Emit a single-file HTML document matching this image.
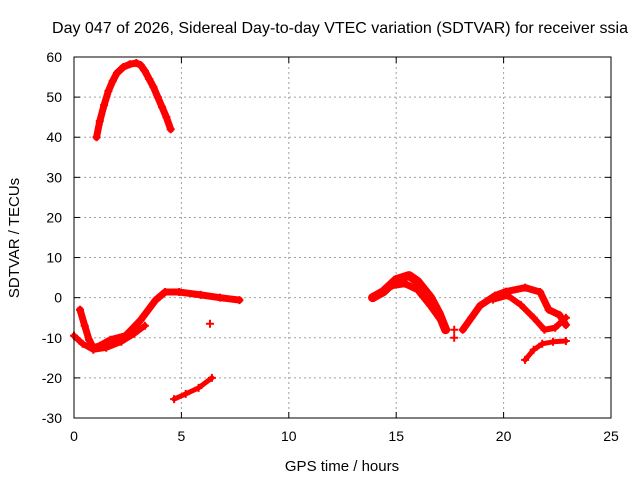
<!DOCTYPE html>
<html><head><meta charset="utf-8"><style>
body{margin:0;background:#fff;}
svg text{font-family:"Liberation Sans",sans-serif;font-size:14px;fill:#000;}
</style></head><body>
<svg id="chart" width="640" height="480">
<rect width="640" height="480" fill="#fff"/>
<text x="340" y="33" text-anchor="middle" style="font-size:16px">Day 047 of 2026, Sidereal Day-to-day VTEC variation (SDTVAR) for receiver ssia</text>
<text x="342" y="471" text-anchor="middle" style="font-size:15px">GPS time / hours</text>
<text transform="translate(19,238) rotate(-90)" text-anchor="middle" style="font-size:15px">SDTVAR / TECUs</text>
<g id="grid"></g><g id="marks"></g>
<rect x="74" y="57" width="537" height="361" fill="none" stroke="#000" stroke-width="1"/>
</svg>
<script>
const xTicks=[0,5,10,15,20,25];
const yTicks=[-30,-20,-10,0,10,20,30,40,50,60];
const arcX=[1.05,1.2,1.4,1.6,1.8,2.0,2.3,2.6,2.9,3.1,3.3,3.5,3.7,3.9,4.1,4.3,4.5];
const arcY=[40,44,48,51.5,54,56,57.5,58.2,58.5,58,56.5,54.5,52.5,50,47.5,45,42];
const earlyX=[0.28,0.5,0.7,0.9,1.2,1.7,2.4,3.1,3.8,4.24,4.9,5.9,6.8,7.7];
const earlyY=[-3,-7,-10.5,-12.5,-12,-10.5,-9.5,-5.6,-0.6,1.4,1.4,0.7,0,-0.6];
const early2X=[0,0.4,0.9,1.5,2.2,2.8,3.3];
const early2Y=[-9.5,-11.5,-13,-12.5,-11,-9,-7];
const dropX=[4.66,5.2,5.8,6.42];
const dropY=[-25.3,-24,-22.5,-20];
const midX=[13.9,14.4,15.0,15.6,16.0,16.6,17.0,17.3];
const midY=[0,1.5,4.5,5.5,4,0,-4,-8];
const mid2X=[14.2,14.8,15.4,16.0,16.6,17.2];
const mid2Y=[1,3,3.5,2,-2,-6.5];
const lateX=[18.1,18.5,18.9,19.6,20.1,21.0,21.7,22.1,22.6,22.9];
const lateY=[-8,-5,-2,0.5,1.5,2.5,1.4,-3,-4.3,-6.8];
const late2X=[19.5,20.2,20.8,21.4,21.9,22.4,22.9];
const late2Y=[-0.5,0.5,-1.8,-5,-8,-7.5,-5];
const lowX=[21.0,21.4,21.8,22.3,22.9];
const lowY=[-15.5,-13,-11.5,-11,-10.8];
const isoX=[6.33,17.7,17.7];
const isoY=[-6.5,-8,-10];
const sx=v=>74+v*537/25;
const sy=v=>57+(60-v)*361/90;
const NS="http://www.w3.org/2000/svg";
const grid=document.getElementById('grid'),marks=document.getElementById('marks');
function mk(t,a,p){const e=document.createElementNS(NS,t);for(const k in a)e.setAttribute(k,a[k]);p.appendChild(e);return e;}
xTicks.forEach(t=>{
 if(t>0&&t<25){const l=mk('line',{x1:sx(t),x2:sx(t),y1:57,y2:418,stroke:'#a0a0a0','stroke-dasharray':'2,3'},grid);
 
 }
 mk('line',{x1:sx(t),x2:sx(t),y1:418,y2:412,stroke:'#000'},grid);
 mk('line',{x1:sx(t),x2:sx(t),y1:57,y2:63,stroke:'#000'},grid);
 const tx=mk('text',{x:sx(t),y:441,'text-anchor':'middle'},grid);tx.textContent=t;
 
 
});
yTicks.forEach(t=>{
 if(t>-30&&t<60){const l=mk('line',{x1:74,x2:611,y1:sy(t),y2:sy(t),stroke:'#a0a0a0','stroke-dasharray':'2,3'},grid);
 
 }
 mk('line',{x1:74,x2:80,y1:sy(t),y2:sy(t),stroke:'#000'},grid);
 mk('line',{x1:605,x2:611,y1:sy(t),y2:sy(t),stroke:'#000'},grid);
 const tx=mk('text',{x:62,y:sy(t)+5,'text-anchor':'end'},grid);tx.textContent=t;
 
 
});
function strand(xs,ys,w,name,line){
 const g=mk('g',{},marks);
 
 
 if(line){const pts=xs.map((x,i)=>sx(x)+','+sy(ys[i])).join(' ');
 mk('polyline',{points:pts,fill:'none',stroke:'#f00','stroke-width':w,'stroke-linejoin':'round','stroke-linecap':'round'},g);}
 xs.forEach((x,i)=>{const X=sx(x),Y=sy(ys[i]);
 mk('path',{d:`M${X-4},${Y}H${X+4}M${X},${Y-4}V${Y+4}`,stroke:'#f00','stroke-width':2},g);});
}
strand(arcX,arcY,7,'arc-series',true);
strand(earlyX,earlyY,7,'early-series',true);
strand(early2X,early2Y,6,'early-series-2',true);
strand(dropX,dropY,5,'drop-series',true);
strand(midX,midY,9,'mid-series',true);
strand(mid2X,mid2Y,7,'mid-series-2',true);
strand(lateX,lateY,7,'late-series',true);
strand(late2X,late2Y,6,'late-series-2',true);
strand(lowX,lowY,5,'low-series',true);
strand(isoX,isoY,2,'isolated-points',false);
</script>
</body></html>
